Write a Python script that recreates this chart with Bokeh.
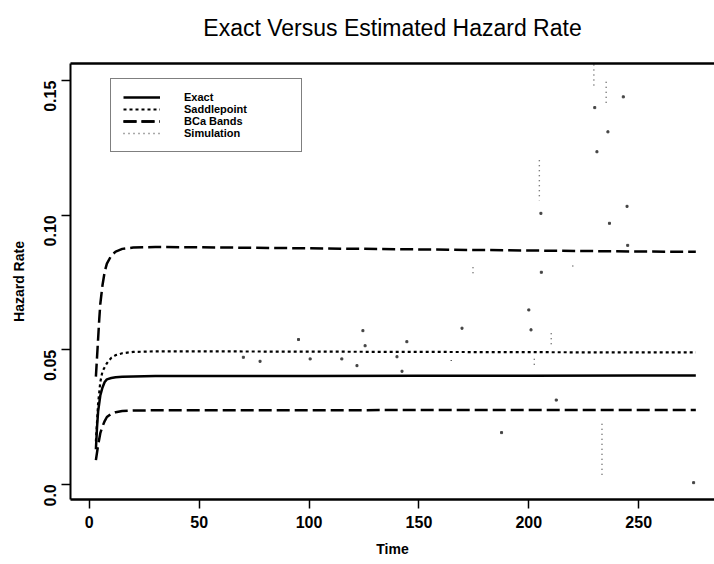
import math
import numpy as np
from bokeh.plotting import figure
from bokeh.models import Range1d, LinearAxis, FixedTicker, Legend, LegendItem
from bokeh.embed import file_html
from bokeh.resources import INLINE

# ---------------- data ----------------
title_text = "Exact Versus Estimated Hazard Rate"
x_label = "Time"
y_label = "Hazard Rate"
x_ticks = [0, 50, 100, 150, 200, 250]
y_ticks = [0.0, 0.05, 0.10, 0.15]
y_tick_labels = ["0.0", "0.05", "0.10", "0.15"]
series_names = ["Exact", "Saddlepoint", "BCa Bands", "Simulation"]

exact_t = [3, 3.5, 4, 5, 6, 7, 8, 10, 12, 15, 20, 30, 50, 100, 150, 200, 250, 276]
exact_v = [0.013, 0.021, 0.027, 0.033, 0.036, 0.038, 0.039, 0.0395, 0.0398, 0.0400,
           0.0401, 0.0402, 0.0402, 0.0402, 0.0403, 0.0403, 0.0404, 0.0404]

saddle_t = [3, 4, 5, 6, 8, 10, 12, 15, 20, 30, 50, 100, 150, 200, 250, 276]
saddle_v = [0.016, 0.030, 0.038, 0.042, 0.045, 0.047, 0.048, 0.0487, 0.0492, 0.0494,
            0.0494, 0.0493, 0.0492, 0.0491, 0.0490, 0.0490]

bca_upper_t = [3, 3.5, 4, 4.5, 5, 6, 7, 8, 10, 12, 15, 20, 30, 50, 100, 150, 200, 250, 276]
bca_upper_v = [0.040, 0.047, 0.054, 0.061, 0.067, 0.074, 0.079, 0.082, 0.085, 0.0865,
               0.0875, 0.0880, 0.0882, 0.0881, 0.0877, 0.0873, 0.0869, 0.0865, 0.0864]

bca_lower_t = [3, 4, 5, 6, 7, 8, 10, 12, 15, 20, 30, 50, 100, 150, 200, 250, 276]
bca_lower_v = [0.009, 0.0145, 0.019, 0.0215, 0.0235, 0.025, 0.0262, 0.0268, 0.0272,
               0.0274, 0.0275, 0.0275, 0.0275, 0.0276, 0.0276, 0.0276, 0.0276]

# simulation: steep pieces of the noisy curve (seen as dotted columns)
sim_seg_t = [[204.8, 204.8], [229.6, 229.6], [235.2, 235.2], [233.3, 233.3],
             [210.2, 210.2], [164.7, 164.7], [202.5, 202.5], [220.0, 220.0],
             [174.6, 174.6]]
sim_seg_v = [[0.1204, 0.1055], [0.1560, 0.1480], [0.1496, 0.1406], [0.0225, 0.0025],
             [0.0561, 0.0509], [0.0462, 0.0444], [0.0467, 0.0444], [0.0813, 0.0795],
             [0.0807, 0.0772]]
# simulation: isolated visible dots
sim_dot_t = [70.1, 77.7, 95.2, 100.5, 114.9, 121.8, 124.5, 125.5, 140.0, 142.3, 144.5,
             169.6, 187.6, 200.0, 201.0, 205.5, 205.7, 212.5, 230.0, 231.0, 236.0,
             236.7, 243.0, 244.7, 245.0, 275.0]
sim_dot_v = [0.0472, 0.0457, 0.0538, 0.0466, 0.0466, 0.0441, 0.0571, 0.0515, 0.0474,
             0.0420, 0.0530, 0.0580, 0.0192, 0.0648, 0.0574, 0.1007, 0.0788, 0.0313,
             0.1400, 0.1236, 0.1310, 0.0970, 0.1440, 0.1033, 0.0888, 0.0006]

FONT = "Liberation Sans"

p = figure(width=714, height=564,
           x_range=Range1d(-8.56, 284.5), y_range=Range1d(-0.00566, 0.1564),
           output_backend="svg", toolbar_location=None,
           min_border_left=70, min_border_right=0, min_border_top=63, min_border_bottom=65)
p.outline_line_color = None
p.background_fill_color = "white"
p.border_fill_color = "white"
p.xgrid.grid_line_color = None
p.ygrid.grid_line_color = None

# bottom axis
xa = p.xaxis[0]
xa.ticker = FixedTicker(ticks=x_ticks)
xa.axis_label = x_label
xa.axis_line_width = 2.5
xa.major_tick_line_width = 1.5
xa.major_tick_out = 9
xa.major_tick_in = 0
xa.minor_tick_line_color = None
xa.major_label_text_font = FONT
xa.major_label_text_font_size = "16px"
xa.major_label_text_font_style = "bold"
xa.major_label_text_color = "black"
xa.major_label_standoff = 7
xa.axis_label_text_font = FONT
xa.axis_label_text_font_size = "14px"
xa.axis_label_text_font_style = "bold"
xa.axis_label_text_color = "black"
xa.axis_label_standoff = 10

# left axis
ya = p.yaxis[0]
ya.ticker = FixedTicker(ticks=y_ticks)
ya.major_label_overrides = {t: s for t, s in zip(y_ticks, y_tick_labels)}
ya.major_label_orientation = math.pi / 2
ya.axis_label = y_label
ya.axis_line_width = 2
ya.major_tick_line_width = 1.5
ya.major_tick_out = 9
ya.major_tick_in = 0
ya.minor_tick_line_color = None
ya.major_label_text_font = FONT
ya.major_label_text_font_size = "16px"
ya.major_label_text_font_style = "bold"
ya.major_label_text_color = "black"
ya.major_label_standoff = 11
ya.axis_label_text_font = FONT
ya.axis_label_text_font_size = "14px"
ya.axis_label_text_font_style = "bold"
ya.axis_label_text_color = "black"
ya.axis_label_standoff = 9

# top frame line, carrying the chart title
top_axis = LinearAxis(ticker=FixedTicker(ticks=[]), axis_line_width=2.5,
                      major_tick_out=0, major_tick_in=0, minor_tick_out=0, minor_tick_in=0,
                      major_label_text_font_size="0px",
                      axis_label=title_text, axis_label_standoff=23,
                      axis_label_text_font=FONT, axis_label_text_font_size="23px",
                      axis_label_text_font_style="normal", axis_label_text_color="black")
p.add_layout(top_axis, "above")

# curves
r_exact = p.line(exact_t, exact_v, line_color="black", line_width=2.5)
r_saddle = p.line(saddle_t, saddle_v, line_color="black", line_width=2.2, line_dash="3 3")
r_up = p.line(bca_upper_t, bca_upper_v, line_color="black", line_width=2.5, line_dash="13 5")
r_lo = p.line(bca_lower_t, bca_lower_v, line_color="black", line_width=2.5, line_dash="13 5")
r_sim = p.multi_line(sim_seg_t, sim_seg_v, line_color="#555555", line_width=1.4, line_dash="1 4")
p.scatter(sim_dot_t, sim_dot_v, marker="square", size=2, color="#444444")

legend = Legend(items=[
    LegendItem(label=series_names[0], renderers=[r_exact]),
    LegendItem(label=series_names[1], renderers=[r_saddle]),
    LegendItem(label=series_names[2], renderers=[r_up, r_lo]),
    LegendItem(label=series_names[3], renderers=[r_sim]),
], location=(40, 347), margin=0, padding=12, spacing=0,
    label_height=12, glyph_height=12, glyph_width=37, label_standoff=24, label_width=105,
    border_line_color="black", border_line_width=1.5,
    background_fill_color="white", background_fill_alpha=1.0,
    label_text_font=FONT, label_text_font_size="11px", label_text_font_style="bold",
    label_text_color="black")
p.add_layout(legend)

open("out.html", "w").write(file_html(p, INLINE))
